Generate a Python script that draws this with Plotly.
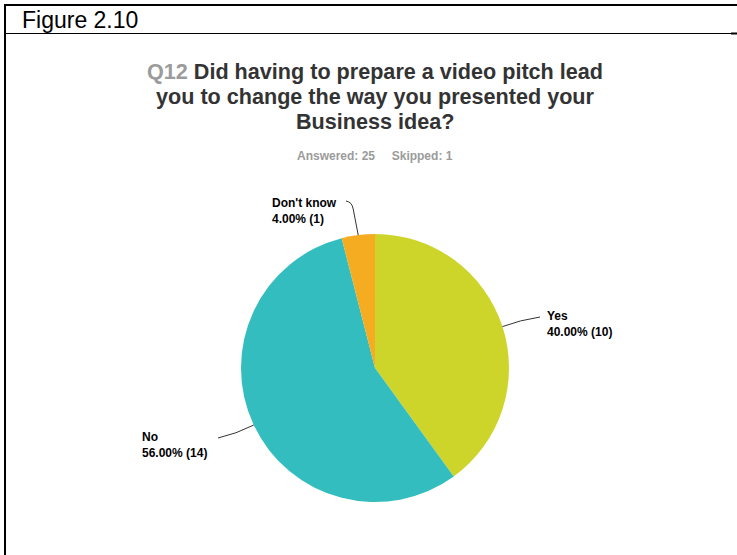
import math
import plotly.graph_objects as go

# Survey responses for Q12
answers = ["Yes", "No", "Don't know"]
counts = [10, 14, 1]
percents = [40.00, 56.00, 4.00]
colors = ["#CDD52A", "#34BDBF", "#F6AC21"]

title_lines = [
    "<span style='color:#9B9B9B'>Q12</span> Did having to prepare a video pitch lead",
    "you to change the way you presented your",
    "Business idea?",
]
answered, skipped = 25, 1

W, H = 737, 555
FONT = "Liberation Sans, Arial, sans-serif"

# pie geometry in pixels
cx, cy, r = 375, 368, 134


def px(x):
    return x / W


def py(y):
    return 1 - y / H


fig = go.Figure()
fig.add_trace(go.Pie(
    labels=answers,
    values=counts,
    marker=dict(colors=colors, line=dict(width=0)),
    sort=False,
    direction="clockwise",
    rotation=0,
    textinfo="none",
    hoverinfo="label+percent",
    showlegend=False,
    domain=dict(x=[px(cx - r), px(cx + r)], y=[py(cy + r), py(cy - r)]),
))

# leader lines start at the mid-angle of each slice
total = sum(counts)
mids = []
acc = 0
for c in counts:
    mids.append((acc + c / 2) / total * 360)
    acc += c


def edge(angle, rad=r):
    a = math.radians(angle)
    return cx + rad * math.sin(a), cy - rad * math.cos(a)


shapes = []
annotations = []
# leader-line end, curve control point and label position (pixels)
label_spec = {
    "Yes": dict(end=(540, 317), ctrl=(520, 320), text_xy=(545, 324)),
    "No": dict(end=(218, 438), ctrl=(236, 434), text_xy=(140, 445)),
    "Don't know": dict(end=(346, 201), ctrl=(352, 202), text_xy=(270, 211)),
}
for name, pct, cnt, ang in zip(answers, percents, counts, mids):
    sx, sy = edge(ang)
    spec = label_spec[name]
    ex, ey = spec["end"]
    qx, qy = spec["ctrl"]
    if name == "Don't know":
        path = (f"M {px(sx)},{py(sy)} L {px(sx - 5)},{py(sy - 26)} "
                f"Q {px(qx)},{py(qy)} {px(ex)},{py(ey)}")
    else:
        path = f"M {px(sx)},{py(sy)} Q {px(qx)},{py(qy)} {px(ex)},{py(ey)}"
    shapes.append(dict(type="path", xref="paper", yref="paper", path=path,
                       line=dict(color="#333333", width=1)))
    tx, ty = spec["text_xy"]
    annotations.append(dict(
        x=px(tx), y=py(ty), xref="paper", yref="paper",
        xanchor="left", yanchor="middle", align="left",
        text=f"<b>{name}<br>{pct:.2f}% ({cnt})</b>", showarrow=False,
        font=dict(family=FONT, size=12, color="#000000"),
    ))

# question title, one annotation per line for tight spacing
for i, line in enumerate(title_lines):
    annotations.append(dict(
        x=px(375), y=py(71 + 25 * i), xref="paper", yref="paper",
        xanchor="center", yanchor="middle", showarrow=False,
        text=f"<b>{line}</b>",
        font=dict(family=FONT, size=21.6, color="#333333"),
    ))
annotations.append(dict(
    x=px(375), y=py(156), xref="paper", yref="paper",
    xanchor="center", yanchor="middle", showarrow=False,
    text=f"<b>Answered: {answered}&nbsp;&nbsp;&nbsp;&nbsp;&nbsp;Skipped: {skipped}</b>",
    font=dict(family=FONT, size=12, color="#9B9B9B"),
))
# figure caption
annotations.append(dict(
    x=px(20), y=py(20.5), xref="paper", yref="paper",
    xanchor="left", yanchor="middle", showarrow=False,
    text="Figure 2.10",
    font=dict(family=FONT, size=23, color="#000000"),
))

# frame lines around the figure
shapes += [
    dict(type="line", xref="paper", yref="paper", x0=px(4), x1=1, y0=py(5), y1=py(5),
         line=dict(color="#000000", width=2)),
    dict(type="line", xref="paper", yref="paper", x0=px(5), x1=px(5), y0=py(4), y1=0,
         line=dict(color="#000000", width=2)),
    dict(type="line", xref="paper", yref="paper", x0=px(4), x1=1, y0=py(33.5), y1=py(33.5),
         line=dict(color="#000000", width=1)),
    dict(type="line", xref="paper", yref="paper", x0=px(731), x1=1, y0=py(33.5), y1=py(33.5),
         line=dict(color="#000000", width=2)),
]

fig.update_layout(
    width=W, height=H,
    margin=dict(l=0, r=0, t=0, b=0),
    paper_bgcolor="white", plot_bgcolor="white",
    shapes=shapes, annotations=annotations,
    font=dict(family=FONT),
)

fig.write_html("out.html")
